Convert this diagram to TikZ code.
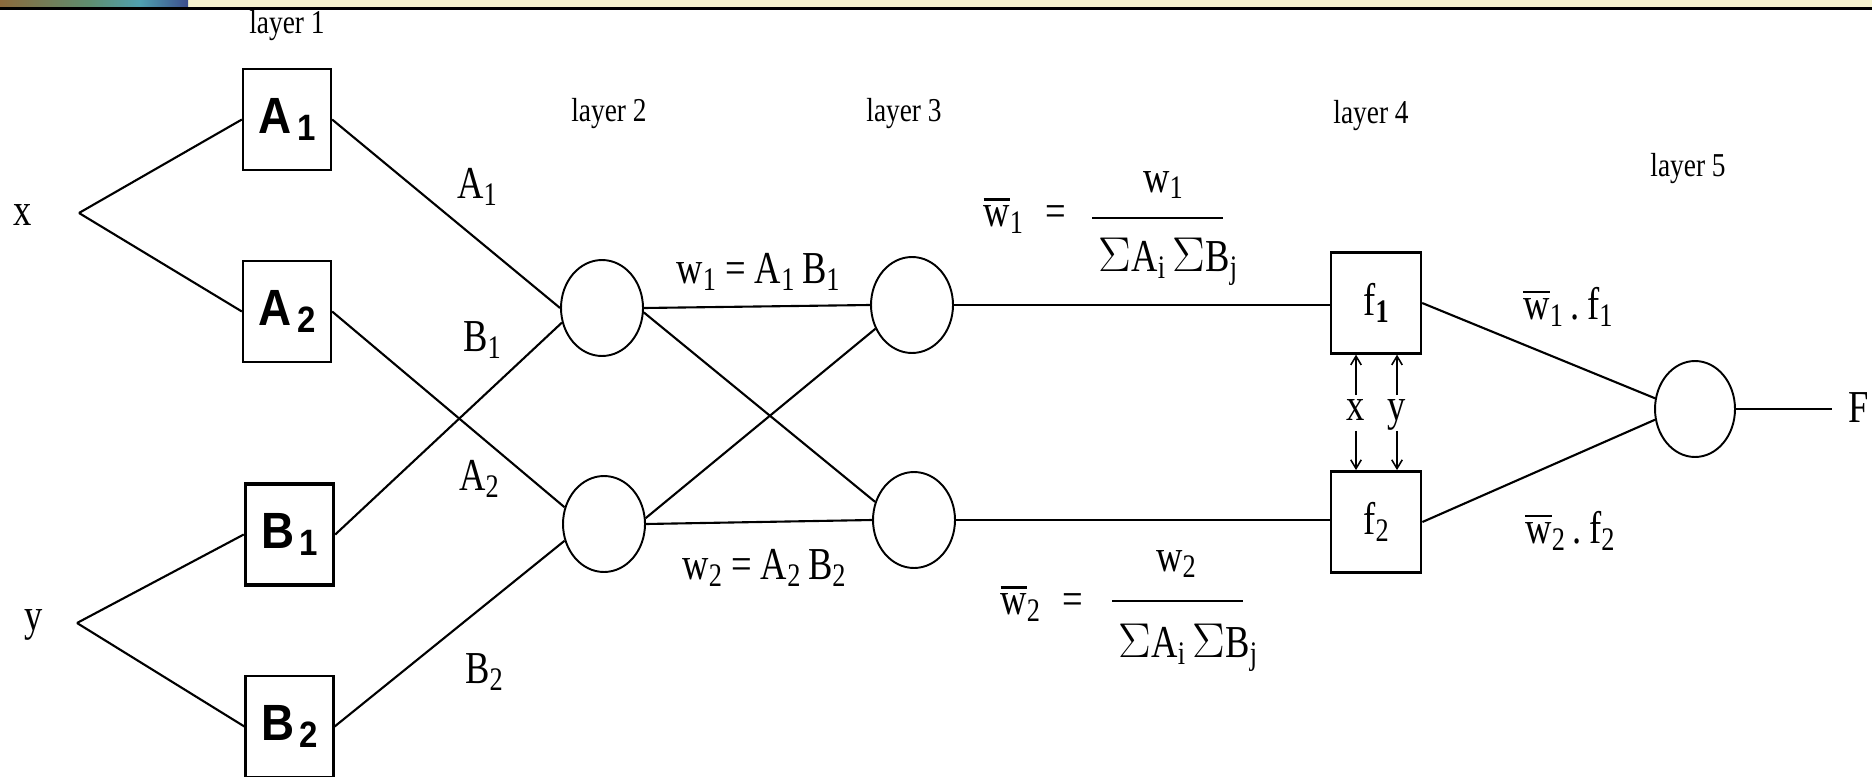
\documentclass[tikz,border=0pt]{standalone}
\usepackage{fontspec}
\setmainfont{Liberation Serif}
\newfontfamily\labf[FakeStretch=0.8]{Liberation Serif}
\newfontfamily\layf[FakeStretch=0.82]{Liberation Serif}
\newfontfamily\boxf[FakeStretch=0.9]{Liberation Sans}
\usetikzlibrary{shapes.geometric,arrows.meta}
\newcommand\lsub[1]{\raisebox{-0.15em}{\scalebox{0.72}{#1}}}
\newcommand\wbar[1]{\setbox0\hbox{w}\rlap{\rule[\dimexpr\ht0+3pt\relax]{\wd0}{1.4pt}}w\lsub{#1}}
\newcommand\bigS{\scalebox{1.12}{$\Sigma$}}
\definecolor{strip}{HTML}{F6F3CF}
\definecolor{dotA}{HTML}{8A6A3C}
\definecolor{dotB}{HTML}{5E8E70}
\definecolor{dotC}{HTML}{4FA0B0}
\definecolor{dotD}{HTML}{3C4E8C}
\tikzset{
  lnk/.style={line width=1.2pt},
  arr/.style={line width=0.9pt,-{Straight Barb[length=5pt,width=6pt]}},
  blk/.style={draw,line width=1.3pt,minimum width=1.76cm,minimum height=2.02cm,inner sep=0,
    font=\boxf\bfseries\fontsize{29}{29}\selectfont},
  fbx/.style={draw,line width=1.3pt,minimum width=1.8cm,minimum height=2.02cm,inner sep=0,
    font=\labf\fontsize{26}{26}\selectfont},
  neu/.style={draw,ellipse,line width=1.1pt,minimum width=1.64cm,minimum height=1.92cm,inner sep=0},
  lbl/.style={inner sep=0,font=\labf\fontsize{26}{26}\selectfont},
  lay/.style={inner sep=0,font=\layf\fontsize{19}{19}\selectfont},
}
\begin{document}
\begin{tikzpicture}[x=0.02cm,y=-0.02cm]
\useasboundingbox (0,0) rectangle (1872,777);
% top strip
\fill[strip] (188,0) rectangle (1872,8);
\shade[left color=dotA,right color=dotB] (0,0) rectangle (90,8);
\shade[left color=dotB,right color=dotC] (90,0) rectangle (140,8);
\shade[left color=dotC,right color=dotD] (140,0) rectangle (188,8);
\draw[line width=1.2pt] (0,8.5) -- (1872,8.5);
% layer labels
\node[lay] (ly1) at (287,26) {layer 1};
\node[lay] (ly2) at (609,114) {layer 2};
\node[lay] (ly3) at (904,114) {layer 3};
\node[lay] (ly4) at (1371,116) {layer 4};
\node[lay] (ly5) at (1688,169) {layer 5};
% inputs
\node[lbl] (xt) at (23,215) {x};
\node[lbl] (yt) at (34,625) {y};
\coordinate (xin) at (79,213);
\coordinate (yin) at (77,623);
% layer 1
\node[blk] (A1) at (287,119.5) {A\hspace{3pt}\lsub{1}};
\node[blk] (A2) at (287,311.5) {A\hspace{3pt}\lsub{2}};
\node[blk,line width=2pt] (B1) at (289.5,534.5) {B\hspace{3pt}\lsub{1}};
\node[blk] (B2) at (289.5,726.5) {B\hspace{3pt}\lsub{2}};
% layer 2, 3
\node[neu] (L2a) at (602,308) {};
\node[neu] (L2b) at (604,524) {};
\node[neu] (L3a) at (912,305) {};
\node[neu] (L3b) at (914,520) {};
% layer 4
\node[fbx] (f1) at (1376,303) {f\lsub{\textbf{1}}};
\node[fbx,line width=1.6pt] (f2) at (1376,522) {f\lsub{2}};
% layer 5
\node[neu,minimum width=1.6cm] (L5) at (1695,409) {};
\coordinate (Fend) at (1832,409);
\node[lbl] (Ft) at (1859,408) {F};
% connectors
\draw[lnk] (xin) -- (A1.west);
\draw[lnk] (xin) -- (A2.west);
\draw[lnk] (yin) -- (B1.west);
\draw[lnk] (yin) -- (B2.west);
\draw[lnk] (A1.east) -- (L2a.180);
\draw[lnk] (B1.east) -- (L2a.200);
\draw[lnk] (A2.east) -- (L2b.157);
\draw[lnk] (B2.east) -- (L2b.203);
\draw[lnk] (L2a.east) -- (L3a.west);
\draw[lnk] (L2a.354) -- (L3b.155);
\draw[lnk] (L2b.8) -- (L3a.213);
\draw[lnk] (L2b.east) -- (L3b.west);
\draw[lnk] (L3a.east) -- (L3a.east -| f1.west);
\draw[lnk] (L3b.east) -- (L3b.east -| f2.west);
\draw[lnk] (f1.east) -- (L5.165);
\draw[lnk] (f2.east) -- (L5.195);
\draw[lnk] (L5.east) -- (Fend);
% x y arrows
\node[lbl,text height=12pt,text depth=4pt,inner sep=2pt] (xl) at (1356,413) {x};
\node[lbl,text height=12pt,text depth=4pt,inner sep=2pt] (yl) at (1397,413) {y};
\draw[arr] (xl.north) -- (xl.north |- f1.south);
\draw[arr] (xl.south) -- (xl.south |- f2.north);
\draw[arr] (yl.north) -- (yl.north |- f1.south);
\draw[arr] (yl.south) -- (yl.south |- f2.north);
% edge labels
\node[lbl] (lA1) at (477,187) {A\lsub{1}};
\node[lbl] (lB1) at (482,340) {B\lsub{1}};
\node[lbl] (lA2) at (479,479) {A\lsub{2}};
\node[lbl] (lB2) at (484,672) {B\lsub{2}};
\node[lbl] (lw1) at (758,272) {w\lsub{1} = A\lsub{1}\,B\lsub{1}};
\node[lbl] (lw2) at (764,568) {w\lsub{2} = A\lsub{2}\,B\lsub{2}};
% normalisation
\node[lbl] (nw1) at (1025,216) {\wbar{1}\hspace{0.5em}=};
\node[lbl] (nu1) at (1163,185) {w\lsub{1}};
\node[lbl] (de1) at (1168,262) {\bigS A\lsub{i}\,\bigS B\lsub{j}};
\coordinate (b1l) at (1092,218);
\coordinate (b1r) at (1223,218);
\draw[lnk] (b1l) -- (b1r);
\node[lbl] (nw2) at (1042,604) {\wbar{2}\hspace{0.5em}=};
\node[lbl] (nu2) at (1176,564) {w\lsub{2}};
\node[lbl] (de2) at (1188,648) {\bigS A\lsub{i}\,\bigS B\lsub{j}};
\coordinate (b2l) at (1112,601);
\coordinate (b2r) at (1243,601);
\draw[lnk] (b2l) -- (b2r);
% layer 5 labels
\node[lbl] (o1) at (1568,307) {\wbar{1}\,.\,f\lsub{1}};
\node[lbl] (o2) at (1570,531) {\wbar{2}\,.\,f\lsub{2}};
\end{tikzpicture}
\end{document}
